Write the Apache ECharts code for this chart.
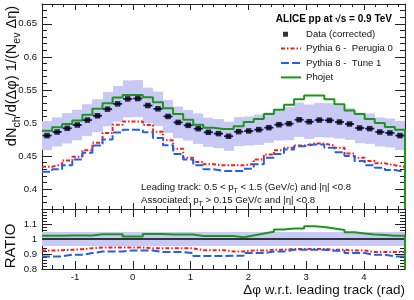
<!DOCTYPE html>
<html><head><meta charset="utf-8">
<script src="https://cdn.jsdelivr.net/npm/echarts@6/dist/echarts.min.js"></script>
<style>html,body{margin:0;padding:0;background:#fff}#c{width:414px;height:300px}</style>
</head><body><div id="c"></div>
<script>
// ---- data (36 bins of pi/18 from -pi/2 to 3pi/2) ----
const dataY = [0.481,0.4865,0.492,0.497,0.5045,0.511,0.521,0.529,0.5365,0.537,0.5265,0.5215,0.510,0.501,0.4965,0.4915,0.486,0.484,0.480,0.487,0.488,0.490,0.493,0.4975,0.499,0.505,0.502,0.5045,0.504,0.5015,0.4985,0.4925,0.4915,0.4865,0.485,0.481];
const sysErr = [0.022,0.022,0.023,0.023,0.024,0.025,0.026,0.027,0.028,0.028,0.027,0.026,0.025,0.024,0.023,0.023,0.022,0.022,0.022,0.022,0.022,0.023,0.023,0.024,0.025,0.026,0.026,0.026,0.026,0.025,0.024,0.023,0.023,0.022,0.022,0.022];
const phojet = [0.4885,0.4935,0.4985,0.504,0.5125,0.5215,0.530,0.5385,0.5425,0.5425,0.539,0.5315,0.5225,0.5135,0.505,0.4975,0.493,0.491,0.491,0.495,0.5015,0.506,0.5135,0.520,0.5275,0.536,0.5415,0.5415,0.536,0.5285,0.519,0.5135,0.506,0.500,0.494,0.490];
const pythia6 = [0.434,0.437,0.4435,0.449,0.459,0.470,0.485,0.4975,0.5025,0.5025,0.497,0.487,0.474,0.461,0.4475,0.441,0.4375,0.436,0.436,0.436,0.438,0.445,0.4525,0.459,0.4625,0.466,0.469,0.469,0.466,0.4625,0.454,0.4475,0.4425,0.439,0.436,0.434];
const pythia8 = [0.4265,0.430,0.436,0.445,0.455,0.466,0.475,0.4855,0.490,0.490,0.486,0.4775,0.4665,0.453,0.445,0.436,0.430,0.4275,0.4275,0.4275,0.431,0.4375,0.4475,0.453,0.460,0.465,0.4675,0.4675,0.4625,0.456,0.450,0.4425,0.436,0.4325,0.429,0.426];
const ratioPhojet = [1.022,1.022,1.024,1.024,1.024,1.031,1.031,1.031,1.017,1.017,1.033,1.033,1.030,1.030,1.030,1.020,1.020,1.020,1.020,1.011,1.024,1.037,1.048,1.063,1.070,1.070,1.085,1.080,1.070,1.060,1.045,1.037,1.030,1.026,1.022,1.022];
const ratioPythia6 = [0.923,0.925,0.928,0.932,0.938,0.943,0.943,0.943,0.943,0.943,0.938,0.938,0.938,0.938,0.938,0.925,0.925,0.925,0.917,0.917,0.923,0.923,0.928,0.928,0.934,0.934,0.934,0.934,0.928,0.928,0.923,0.923,0.913,0.913,0.913,0.913];
const ratioPythia8 = [0.884,0.884,0.895,0.895,0.906,0.917,0.917,0.917,0.923,0.923,0.923,0.913,0.913,0.913,0.906,0.886,0.886,0.886,0.888,0.888,0.906,0.906,0.917,0.917,0.928,0.928,0.928,0.928,0.921,0.921,0.906,0.906,0.895,0.895,0.884,0.884];
const ratioBand = [0.047,0.047,0.047,0.047,0.047,0.047,0.047,0.047,0.047,0.047,0.047,0.047,0.047,0.047,0.047,0.047,0.047,0.047,0.047,0.047,0.047,0.047,0.047,0.047,0.047,0.047,0.047,0.047,0.047,0.047,0.047,0.047,0.047,0.047,0.047,0.047];
const mainTickLabels = [0.4,0.45,0.5,0.55,0.6,0.65];
const ratioTickLabels = [0.8,0.9,1,1.1];
const xTickLabels = [-1,0,1,2,3,4];

// ---- axes ranges / bins ----
const XMIN = -Math.PI/2, XMAX = 3*Math.PI/2, NB = 36, BW = (XMAX-XMIN)/NB;
const YMIN = 0.37, YMAX = 0.68, RMIN = 0.8, RMAX = 1.2;
const edges = []; for (let k=0;k<=NB;k++) edges.push(XMIN + k*BW);
const centers = []; for (let k=0;k<NB;k++) centers.push(XMIN + (k+0.5)*BW);

const xMinor = []; for (let i=-7;i<=23;i++){ if (i%5!==0) xMinor.push(+(i*0.2).toFixed(2)); }
const yMinor = []; for (let i=37;i<=68;i++){ if (i%5!==0) yMinor.push(+(i/100).toFixed(2)); }
const rMinor = []; for (let i=40;i<=60;i++){ if (i%5!==0) rMinor.push(+(i/50).toFixed(2)); }

const FONT = 'Liberation Sans, Arial, Helvetica, sans-serif';
const FRAME = '#222';
const BAND = '#c9c9f6';
const GREEN = '#1b961b', RED = '#ff1a1a', BLUE = '#2060ea', NAVY = '#141490';

function ax(gridIndex, position, min, max, vals, len, labels, major, margin) {
  return {
    type:'value', gridIndex, position, min, max,
    axisLine:{show:major, onZero:false, lineStyle:{color:FRAME, width:1}},
    axisTick:{show:true, inside:true, length:len, customValues:vals, lineStyle:{color:FRAME, width:1}},
    axisLabel: labels ? {show:true, customValues:labels, fontSize:9.6, fontFamily:FONT, color:'#111', margin:margin} : {show:false},
    splitLine:{show:false}, minorTick:{show:false}, axisPointer:{show:false}
  };
}
const xAxes = [
  ax(0,'bottom',XMIN,XMAX,xTickLabels,6,null,true),
  ax(0,'top',XMIN,XMAX,xTickLabels,6,null,true),
  ax(0,'bottom',XMIN,XMAX,xMinor,3,null,false),
  ax(0,'top',XMIN,XMAX,xMinor,3,null,false),
  ax(1,'bottom',XMIN,XMAX,xTickLabels,8,xTickLabels,true,3),
  ax(1,'top',XMIN,XMAX,xTickLabels,8,null,true),
  ax(1,'bottom',XMIN,XMAX,xMinor,4,null,false),
  ax(1,'top',XMIN,XMAX,xMinor,4,null,false)
];
const yAxes = [
  ax(0,'left',YMIN,YMAX,mainTickLabels,10,mainTickLabels,true,5),
  ax(0,'right',YMIN,YMAX,mainTickLabels,10,null,true),
  ax(0,'left',YMIN,YMAX,yMinor,5,null,false),
  ax(0,'right',YMIN,YMAX,yMinor,5,null,false),
  ax(1,'left',RMIN,RMAX,ratioTickLabels,10,ratioTickLabels,true,5),
  ax(1,'right',RMIN,RMAX,ratioTickLabels,10,null,true),
  ax(1,'left',RMIN,RMAX,rMinor,5,null,false),
  ax(1,'right',RMIN,RMAX,rMinor,5,null,false)
];

function stepData(vals, dropTo) {
  const d = vals.map((v,k)=>[edges[k], v]);
  d.push([edges[NB], vals[NB-1]]);
  if (dropTo !== undefined) d.push([edges[NB], dropTo]);
  return d;
}
function bandRender(params, api) {
  const p0 = api.coord([api.value(0), api.value(3)]);
  const p1 = api.coord([api.value(1), api.value(2)]);
  const x0 = Math.round(p0[0]), x1 = Math.round(p1[0]);
  return {type:'rect', shape:{x:x0, y:p0[1], width:x1-x0, height:p1[1]-p0[1]}, style:{fill:BAND}};
}
const bandMain = dataY.map((v,k)=>[edges[k], edges[k+1], v - sysErr[k], v + sysErr[k]]);
const bandRatio = ratioBand.map((e,k)=>[edges[k], edges[k+1], 1 - e, 1 + e]);
const errBars = dataY.map((v,k)=>[edges[k], edges[k+1], v]);

function line(name, data, color, type, xi, yi) {
  return {name, type:'line', xAxisIndex:xi, yAxisIndex:yi, data, step:'end', symbol:'none',
    showSymbol:false, clip:true, lineStyle:{color, width:2, type}, itemStyle:{color}, silent:true, z:3};
}
const hideSym = {color:'rgba(0,0,0,0)', borderWidth:0, opacity:0};

const option = {
  animation:false,
  grid:[
    {left:42, top:4, width:363, height:205, outerBoundsMode:'none', containLabel:false},
    {left:42, top:209, width:363, height:60, outerBoundsMode:'none', containLabel:false}
  ],
  xAxis:xAxes, yAxis:yAxes,
  legend:{
    orient:'vertical', left:275, top:22, itemWidth:20, itemHeight:9, itemGap:0,
    selectedMode:false,
    textStyle:{fontSize:9.6, lineHeight:14.4, fontFamily:FONT, color:'#111'},
    data:[
      {name:'Data (corrected)', icon:'path://M0 0L0 9M20 0L20 9M2 2h5v5h-5z'},
      {name:'Pythia 6 -  Perugia 0', itemStyle:hideSym},
      {name:'Pythia 8 -  Tune 1', itemStyle:hideSym},
      {name:'Phojet', itemStyle:hideSym}
    ]
  },
  series:[
    {type:'custom', name:'sys', xAxisIndex:0, yAxisIndex:0, data:bandMain, renderItem:bandRender,
      encode:{x:[0,1], y:[2,3]}, clip:true, silent:true, z:1},
    line('Pythia 6 -  Perugia 0', stepData(pythia6), RED, [4,2,1.5,2], 0, 0),
    line('Pythia 8 -  Tune 1', stepData(pythia8), BLUE, [8,3], 0, 0),
    line('Phojet', stepData(phojet, YMIN), GREEN, 'solid', 0, 0),
    {type:'custom', name:'errbars', xAxisIndex:0, yAxisIndex:0, data:errBars, silent:true, z:4,
      encode:{x:[0,1], y:2}, clip:true,
      renderItem(params, api){
        const a = api.coord([api.value(0), api.value(2)]);
        const b = api.coord([api.value(1), api.value(2)]);
        return {type:'line', shape:{x1:a[0]+0.5, y1:a[1], x2:b[0]-0.5, y2:b[1]}, style:{stroke:NAVY, lineWidth:1.8}};
      }},
    {type:'scatter', name:'Data (corrected)', xAxisIndex:0, yAxisIndex:0, z:5, silent:true,
      data:dataY.map((v,k)=>[centers[k], v]), symbol:'rect', symbolSize:5.5, itemStyle:{color:'#000'}},
    // ratio panel
    {type:'custom', name:'sysR', xAxisIndex:4, yAxisIndex:4, data:bandRatio, renderItem:bandRender,
      encode:{x:[0,1], y:[2,3]}, clip:true, silent:true, z:1},
    {type:'line', name:'unity', xAxisIndex:4, yAxisIndex:4, data:[[XMIN,1],[XMAX,1]], symbol:'none',
      lineStyle:{color:'#000', width:1.5}, silent:true, z:2},
    line('Pythia 6 -  Perugia 0', stepData(ratioPythia6), RED, [4,2,1.5,2], 4, 4),
    line('Pythia 8 -  Tune 1', stepData(ratioPythia8), BLUE, [8,3], 4, 4),
    line('Phojet', stepData(ratioPhojet, RMIN), GREEN, 'solid', 4, 4)
  ],
  graphic:[
    {type:'text', x:392, y:19, style:{text:'ALICE pp at √s = 0.9 TeV', fill:'#000', font:'bold 10px '+FONT, align:'right', verticalAlign:'middle'}},
    {type:'text', x:141, y:187, style:{
      text:'{a|Leading track: 0.5 < p}{s|T}{a| < 1.5 (GeV/c) and |η| <0.8}', align:'left', verticalAlign:'middle',
      rich:{a:{fontSize:9.6, fontFamily:FONT, fill:'#111', color:'#111'}, s:{fontSize:7, fontFamily:FONT, fill:'#111', color:'#111', padding:[8,0,0,0]}}}},
    {type:'text', x:141, y:200, style:{
      text:'{a|Associated: p}{s|T}{a| > 0.15 GeV/c and |η| <0.8}', align:'left', verticalAlign:'middle',
      rich:{a:{fontSize:9.6, fontFamily:FONT, fill:'#111', color:'#111'}, s:{fontSize:7, fontFamily:FONT, fill:'#111', color:'#111', padding:[8,0,0,0]}}}},
    {type:'text', x:12, y:76, rotation:Math.PI/2, style:{
      text:'{a|dN}{s|ch}{a|/d(Δφ) 1/(N}{s|ev}{a| Δη)}', align:'center', verticalAlign:'middle',
      rich:{a:{fontSize:14.6, fontFamily:FONT, fill:'#111', color:'#111'}, s:{fontSize:10.5, fontFamily:FONT, fill:'#111', color:'#111', padding:[10,0,0,0]}}}},
    {type:'text', x:11, y:246, rotation:Math.PI/2, style:{text:'RATIO', fill:'#111', font:'15px '+FONT, align:'center', verticalAlign:'middle'}},
    {type:'text', x:405, y:290, style:{text:'Δφ w.r.t. leading track (rad)', fill:'#111', font:'13.5px '+FONT, align:'right', verticalAlign:'middle'}}
  ]
};
const chart = echarts.init(document.getElementById('c'), null, {renderer:'canvas'});
chart.setOption(option);
</script></body></html>
